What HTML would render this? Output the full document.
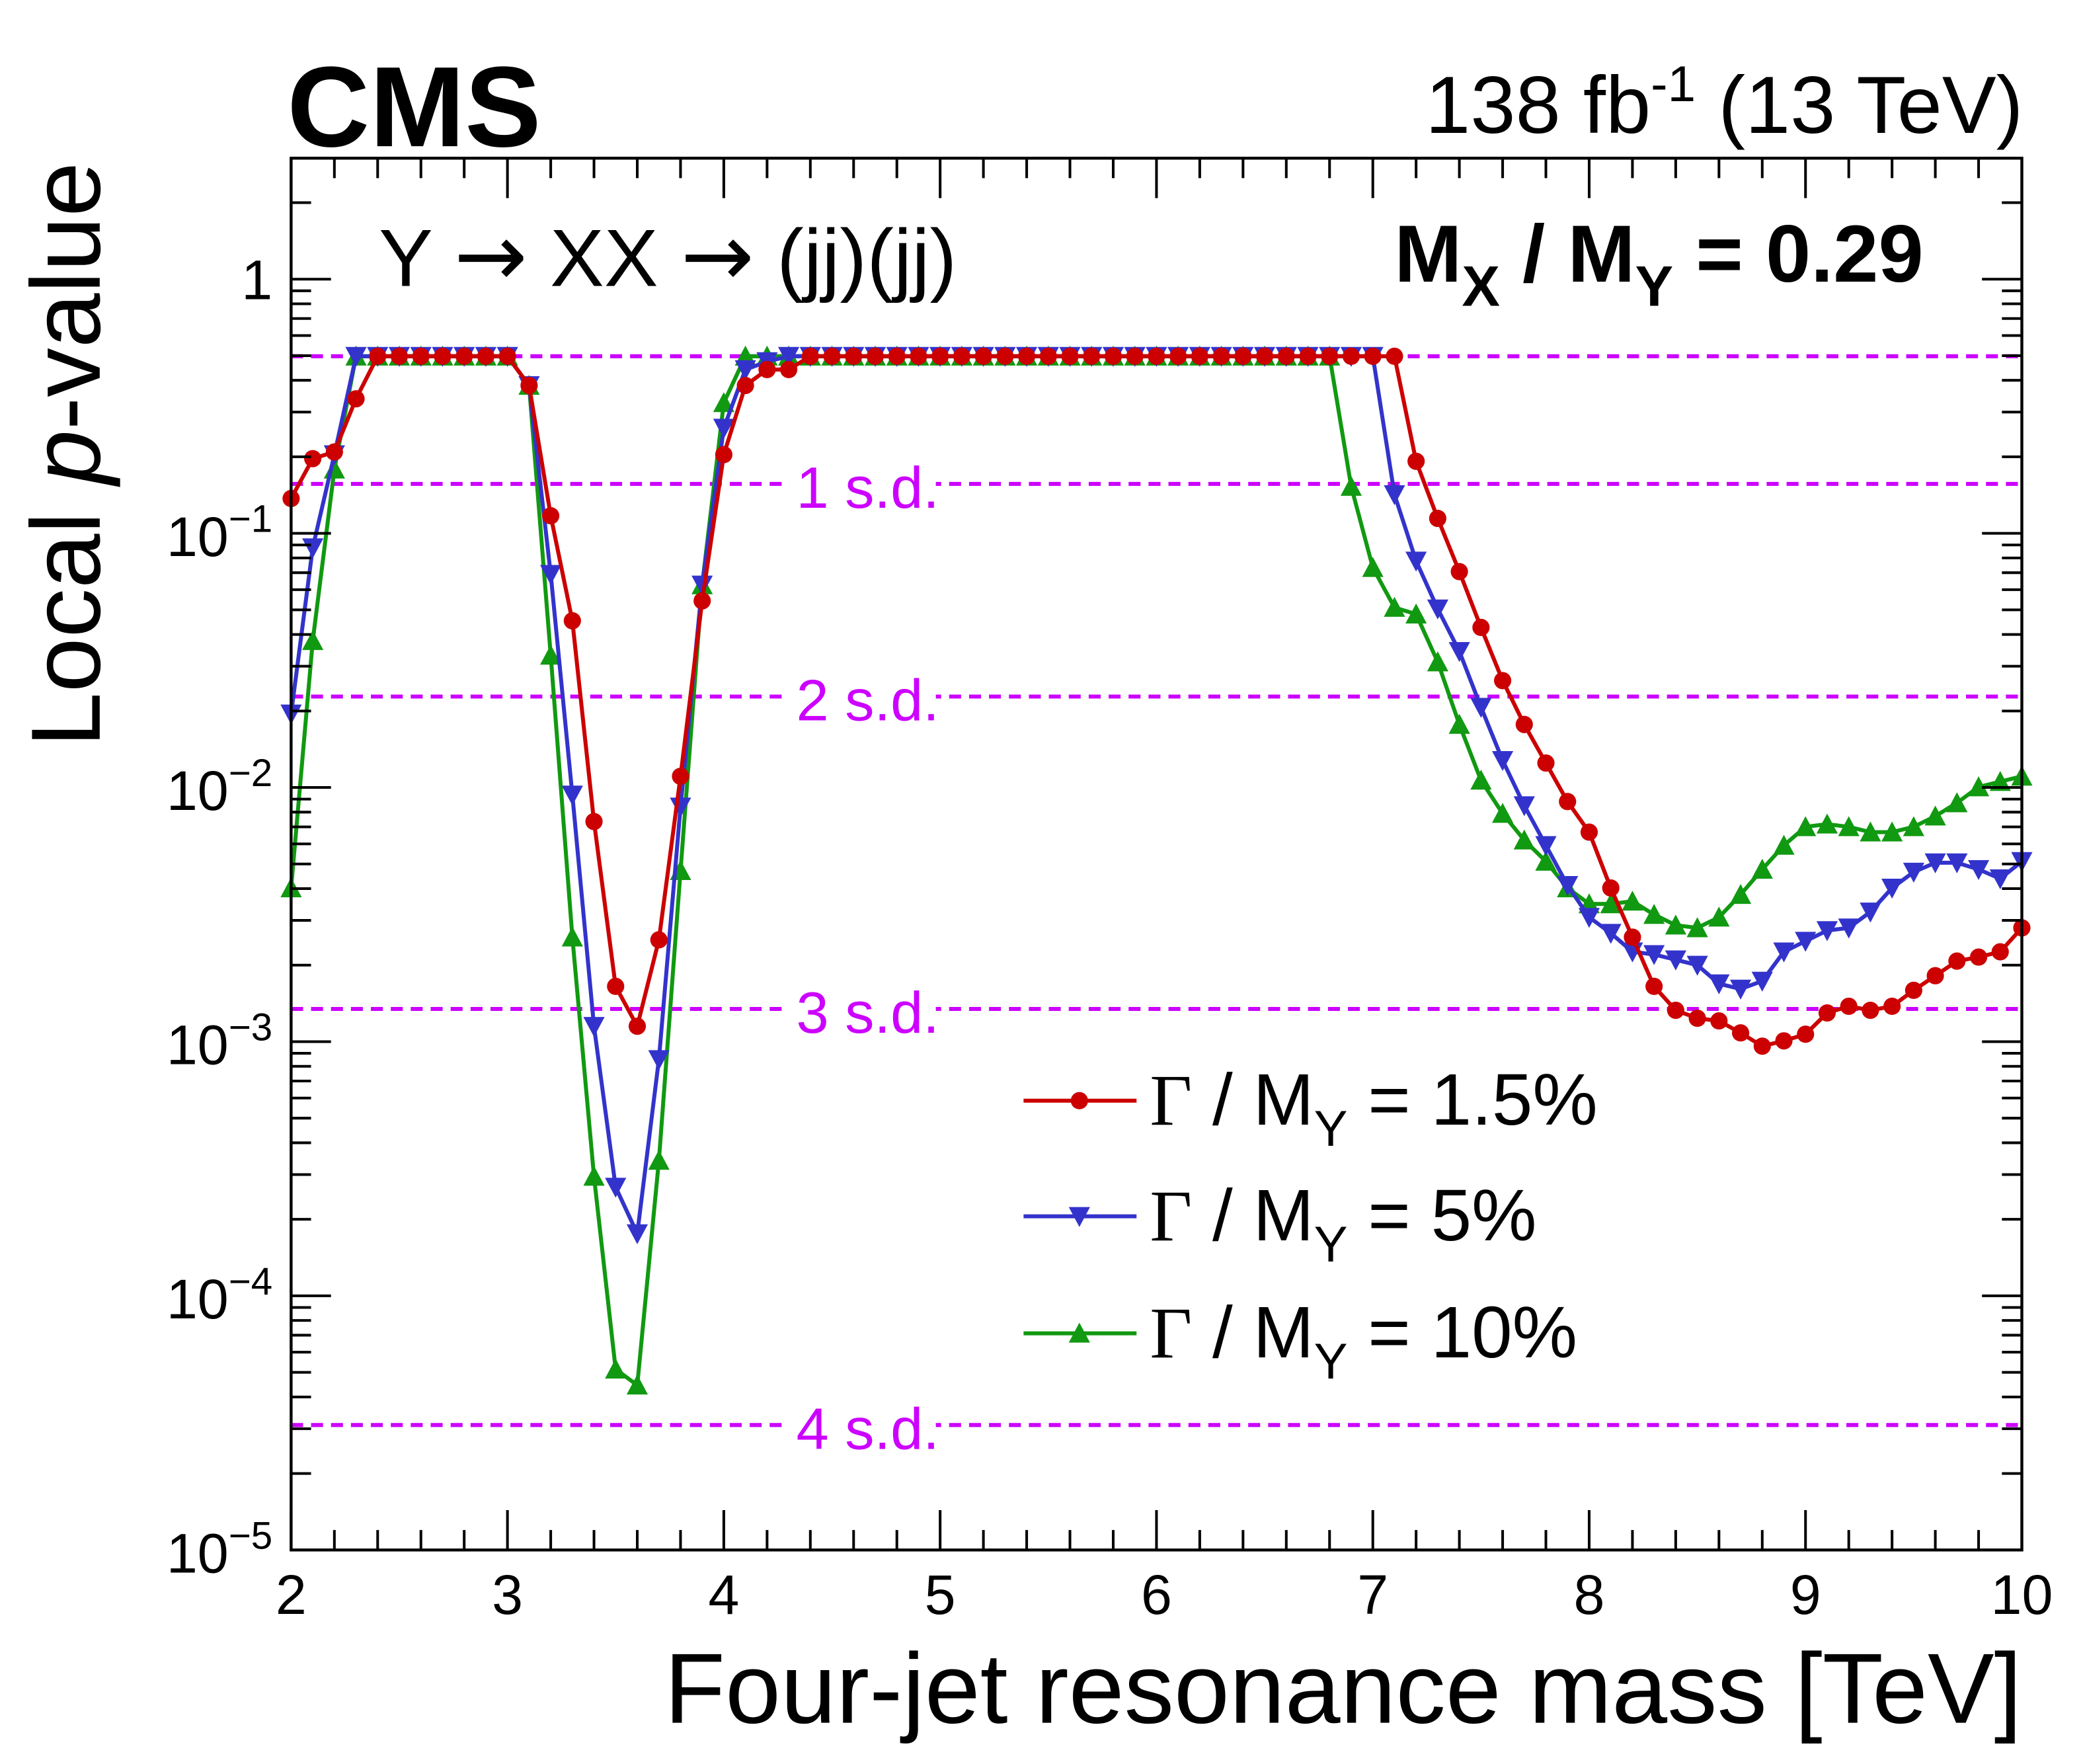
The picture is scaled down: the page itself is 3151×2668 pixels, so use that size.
<!DOCTYPE html>
<html><head><meta charset="utf-8">
<style>
html,body{margin:0;padding:0;background:#fff;}
svg{display:block;}
text{font-family:"Liberation Sans",sans-serif;}
</style></head>
<body>
<svg id="s" width="3151" height="2668" viewBox="0 0 1567 1327" preserveAspectRatio="none" xmlns="http://www.w3.org/2000/svg">
<rect width="1567" height="1327" fill="#fff"/>
<g id="dash"></g>
<g id="series"></g>
<g id="ticks" stroke="#000" stroke-width="2" fill="none"></g>
<rect x="219" y="119" width="1302" height="1047" fill="none" stroke="#000" stroke-width="2.2"/>
<g id="labels" font-size="42" fill="#000"></g>
<text x="216" y="110" font-size="86" font-weight="bold">CMS</text>
<text x="1522" y="100" font-size="61" text-anchor="end">138 fb<tspan dy="-24" font-size="38">-1</tspan><tspan dy="24"> (13 TeV)</tspan></text>
<text x="285" y="215" font-size="61">Y <tspan font-family="DejaVu Sans" font-size="66">→</tspan> XX <tspan font-family="DejaVu Sans" font-size="66">→</tspan> (jj)(jj)</text>
<text x="1447" y="212" font-size="61" font-weight="bold" text-anchor="end">M<tspan dy="18" font-size="43">X</tspan><tspan dy="-18"> / M</tspan><tspan dy="18" font-size="43">Y</tspan><tspan dy="-18"> = 0.29</tspan></text>
<text x="1521" y="1296" font-size="75" text-anchor="end">Four-jet resonance mass [TeV]</text>
<text transform="translate(75,562) rotate(-90)" font-size="74">Local <tspan font-style="italic">p</tspan>-value</text>
<g id="legend"></g>
</svg>
<script>
const NS="http://www.w3.org/2000/svg";
function el(p,t,a,txt){const e=document.createElementNS(NS,t);for(const k in a)e.setAttribute(k,a[k]);if(txt!==undefined)e.textContent=txt;p.appendChild(e);return e;}
const L=219,R=1521,T=119,B=1166;
const X=m=>L+(m-2)*(R-L)/8;
const dec=191.2, y0=210;
const Y=lg=>y0-lg*dec;
const tk=document.getElementById('ticks'), lb=document.getElementById('labels');
for(let i=0;i<=40;i++){const m=2+i*0.2,x=X(m),len=(i%5==0)?30:15;
 el(tk,'line',{x1:x,y1:B,x2:x,y2:B-len});el(tk,'line',{x1:x,y1:T,x2:x,y2:T+len});
 if(i%5==0)el(lb,'text',{x:x,y:1214,'text-anchor':'middle'},String(m.toFixed(0)));}
for(let d=-5;d<=0;d++){for(let k=1;k<=9;k++){const lg=d+Math.log10(k);const y=Y(lg);if(y<T)break;
 const len=k==1?30:15;el(tk,'line',{x1:L,y1:y,x2:L+len,y2:y});el(tk,'line',{x1:R,y1:y,x2:R-len,y2:y});}}
el(tk,'line',{x1:L,y1:Y(Math.log10(2)),x2:L+15,y2:Y(Math.log10(2))});el(tk,'line',{x1:R,y1:Y(Math.log10(2)),x2:R-15,y2:Y(Math.log10(2))});
el(lb,'text',{x:205,y:Y(0)+15,'text-anchor':'end'},'1');
for(let d=-5;d<=-1;d++){const t=el(lb,'text',{x:205,y:Y(d)+17,'text-anchor':'end'},'10');
 el(t,'tspan',{dy:-18,'font-size':29},'−'+(-d));}
const dg=document.getElementById('dash');
[[268,''],[364,'1 s.d.'],[524,'2 s.d.'],[759,'3 s.d.'],[1072,'4 s.d.']].forEach(([y,t])=>{
 el(dg,'line',{x1:L,y1:y,x2:R,y2:y,stroke:'#cc00ff','stroke-width':3,'stroke-dasharray':'9,6'});
 if(t){el(dg,'rect',{x:594,y:y-20,width:110,height:40,fill:'#fff'});
 el(dg,'text',{x:599,y:y+18,'font-size':44,fill:'#cc00ff'},t);}});
function arr(s,e,v){const a=[];for(let i=0;i<=Math.round((e-s)*10);i++)a.push(v);return a;}
const red=[375,345,340,300].concat(arr(2.4,3.0,268),[290,388,467,618,742,772,707,584,452,342,290,278,278],arr(4.4,7.1,268),
[347,390,430,472,512,545,574,603,626,668,705,742,760,766,768,777,787,783,778,762,757,760,757,745,734,723,720,716,698]);
const blue=[537,412,342].concat(arr(2.3,3.0,268),[290,432,598,772,893,928,797,607,440,322,278,272],arr(4.3,7.0,268),
[372,422,458,490,532,572,606,636,666,690,702,716,718,722,726,740,744,738,716,708,700,698,686,668,656,649,649,654,661,648]);
const green=[668,482,353].concat(arr(2.3,3.0,268),[290,493,705,885,1030,1042,873,655,440,303],arr(4.1,6.8,268),
[366,427,457,462,498,545,587,612,632,648,668,680,680,678,688,696,698,690,673,654,636,622,620,622,626,626,622,614,604,592,588,584]);
const sg=document.getElementById('series');
function marker(g,type,x,y,c){
 if(type=='c')el(g,'circle',{cx:x,cy:y,r:6.5,fill:c});
 else if(type=='d')el(g,'polygon',{points:`${x-8},${y-7} ${x+8},${y-7} ${x},${y+8}`,fill:c});
 else el(g,'polygon',{points:`${x-8},${y+7} ${x+8},${y+7} ${x},${y-8}`,fill:c});}
function draw(d,c,type){const pts=d.map((y,i)=>[X(2+i*0.1),y]);
 el(sg,'polyline',{points:pts.map(p=>p.join(',')).join(' '),fill:'none',stroke:c,'stroke-width':3});
 pts.forEach(p=>marker(sg,type,p[0],p[1],c));}
draw(green,'#119911','u');draw(blue,'#3333cc','d');draw(red,'#cc0000','c');
const lg=document.getElementById('legend');
[[828,'#cc0000','c','1.5%'],[915,'#3333cc','d','5%'],[1003,'#119911','u','10%']].forEach(([y,c,t,v])=>{
 el(lg,'line',{x1:770,y1:y,x2:855,y2:y,stroke:c,'stroke-width':3});marker(lg,t,812,y,c);
 const tx=el(lg,'text',{x:865,y:y+18,'font-size':55});
 el(tx,'tspan',{'font-family':'Liberation Serif,serif'},'Γ');
 el(tx,'tspan',{},' / M');el(tx,'tspan',{dy:16,'font-size':38},'Y');el(tx,'tspan',{dy:-16},' = '+v);});
</script>
</body></html>
